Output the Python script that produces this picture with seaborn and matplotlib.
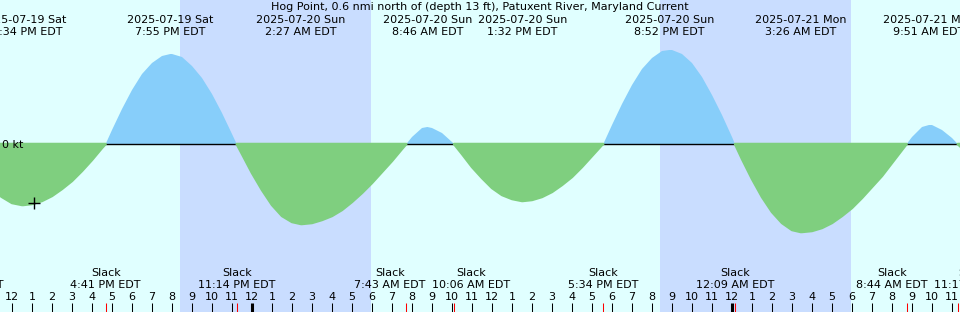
#!/usr/bin/env python3
import numpy as np
import pandas as pd
import seaborn as sns
import matplotlib as mpl
import matplotlib.pyplot as plt

sns.set_theme(style="white")
mpl.rcParams["font.family"] = ["DejaVu Sans"]
mpl.rcParams["font.size"] = 8
mpl.rcParams["text.color"] = "black"

title = "Hog Point, 0.6 nmi north of (depth 13 ft), Patuxent River, Maryland Current"
start = pd.Timestamp("2025-07-19 12:00")  # hour 0 of the x axis

# current readings every half hour from 11:00 AM Sat (knots, + flood / - ebb)
reading_hours = np.arange(-1.0, 48.0, 0.5)
knots = [
    -0.46,
    -0.53, -0.59, -0.61, -0.60, -0.57, -0.52, -0.45, -0.37, -0.27, -0.16, -0.04,
    0.14, 0.35, 0.54, 0.70, 0.81, 0.88, 0.90, 0.87, 0.78, 0.66, 0.50, 0.31, 0.10,
    -0.10, -0.29, -0.46, -0.61, -0.72, -0.78, -0.80, -0.79, -0.76, -0.72, -0.66,
    -0.58, -0.49, -0.39, -0.28, -0.17, -0.05,
    0.07, 0.16, 0.16, 0.11, 0.02,
    -0.10, -0.23, -0.34, -0.44, -0.51, -0.55, -0.57, -0.56, -0.53, -0.48, -0.41,
    -0.33, -0.23, -0.12, -0.01,
    0.19, 0.40, 0.59, 0.75, 0.86, 0.93, 0.94, 0.90, 0.81, 0.67, 0.49, 0.29, 0.07,
    -0.15, -0.35, -0.53, -0.68, -0.79, -0.86, -0.88, -0.87, -0.84, -0.79, -0.72,
    -0.64, -0.54, -0.43, -0.32, -0.19, -0.06,
    0.07, 0.17, 0.19, 0.14, 0.06, -0.04,
]

# max flood / max ebb events
extreme_times = [
    "2025-07-19 12:34", "2025-07-19 19:55", "2025-07-20 02:27", "2025-07-20 08:46",
    "2025-07-20 13:32", "2025-07-20 20:52", "2025-07-21 03:26", "2025-07-21 09:51",
]
extreme_knots = [-0.61, 0.90, -0.80, 0.17, -0.57, 0.94, -0.88, 0.19]

slack_times = [
    "2025-07-19 09:47", "2025-07-19 16:41", "2025-07-19 23:14", "2025-07-20 07:43",
    "2025-07-20 10:06", "2025-07-20 17:34", "2025-07-21 00:09", "2025-07-21 08:44",
    "2025-07-21 11:17",
]

sunset_times = ["2025-07-19 20:24", "2025-07-20 20:24"]
sunrise_times = ["2025-07-20 05:57", "2025-07-21 05:57"]

now_time = "2025-07-19 13:06"
now_knots = -0.59


def to_hours(times):
    return ((pd.to_datetime(times) - start) / pd.Timedelta(hours=1)).to_numpy()


def clock(ts):
    ampm = "AM" if ts.hour < 12 else "PM"
    return f"{ts.hour % 12 or 12}:{ts.minute:02d} {ampm} EDT"


def spread(pos, gap):
    # push neighbouring labels apart so they don't overlap
    pos = list(pos)
    for i in range(len(pos) - 1):
        d = pos[i + 1] - pos[i]
        if d < gap:
            pos[i] -= (gap - d) / 2
            pos[i + 1] += (gap - d) / 2
    return pos


extreme_hours = to_hours(extreme_times)
slack_hours = to_hours(slack_times)

df = pd.DataFrame(
    {
        "hour": np.concatenate([reading_hours, extreme_hours, slack_hours]),
        "knots": np.concatenate([knots, extreme_knots, np.zeros(len(slack_hours))]),
    }
).sort_values("hour")
df = df[(df["hour"] >= -1.0) & (df["hour"] <= 48)]

fig = plt.figure(figsize=(9.6, 3.12), dpi=100, facecolor="#e0ffff")
ax = fig.add_axes([0, 0, 1, 1])
ax.set_facecolor("#e0ffff")
ax.set_xlim(-0.6, 47.4)
ax.set_ylim(-1.68, 1.44)
ax.axis("off")
ax.patch.set_visible(True)

for a, b in zip(to_hours(sunset_times), to_hours(sunrise_times)):
    ax.axvspan(a, b, color="#c9ddff", lw=0, zorder=0)

h = df["hour"].to_numpy()
v = df["knots"].to_numpy()
ax.fill_between(h, v, 0, where=v >= 0, interpolate=True, color="#87cefa", lw=0, zorder=2)
ax.axhline(0, color="black", lw=1.0, zorder=2.5)
ax.fill_between(
    h, v, 0, where=v <= 0, interpolate=True,
    facecolor="#7fcf7f", edgecolor="#7fcf7f", lw=1.8, zorder=3,
)

sns.scatterplot(
    x=to_hours([now_time]), y=[now_knots], marker="+", s=70,
    color="black", linewidth=1, zorder=5, ax=ax,
)
ax.text(-0.5, -0.01, "0 kt", ha="left", va="center", zorder=6)

xt = ax.get_xaxis_transform()
ax.text(0.5, 1 - 7 / 312, title, transform=ax.transAxes, ha="center", va="center")

for hr, ts in zip(extreme_hours, pd.to_datetime(extreme_times)):
    ax.text(hr, 1 - 20 / 312, ts.strftime("%Y-%m-%d %a"), transform=xt,
            ha="center", va="center", clip_on=False)
    ax.text(hr, 1 - 32 / 312, clock(ts), transform=xt,
            ha="center", va="center", clip_on=False)

for hr, ts in zip(spread(slack_hours, 4.05), pd.to_datetime(slack_times)):
    ax.text(hr, (312 - 273.5) / 312, "Slack", transform=xt, ha="center", va="center")
    ax.text(hr, (312 - 285.5) / 312, clock(ts), transform=xt, ha="center", va="center")

# hour ticks along the bottom
for hr in range(-1, 49):
    ax.text(hr, (312 - 297.5) / 312, str((hr - 1) % 12 + 1), transform=xt,
            ha="center", va="center")
    lw = 2.2 if hr % 24 == 12 else 0.75
    ax.vlines(hr, 0, 9.5 / 312, transform=xt, color="black", lw=lw, zorder=4)
ax.vlines(slack_hours, 0, 9.5 / 312, transform=xt, color="red", lw=0.75, zorder=4)

plt.savefig("out.png", dpi=100, facecolor=fig.get_facecolor())
